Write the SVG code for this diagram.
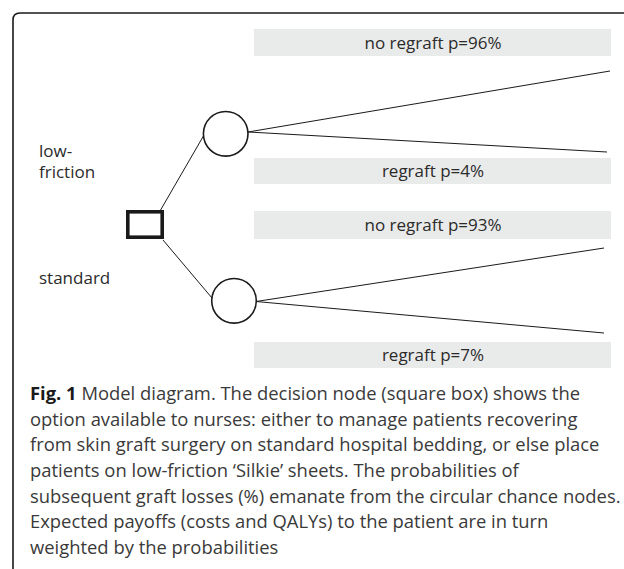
<svg xmlns="http://www.w3.org/2000/svg" width="624" height="569" viewBox="0 0 624 569">
<style>
.frame{fill:none;stroke:#1a1a1a;stroke-width:1.6}
.lbl{fill:#e9eaea}
.t{font-family:"Open Sans","Noto Sans",sans-serif;font-size:17px;fill:#2b2b2b}
.tc{text-anchor:middle}
.edge{stroke:#1a1a1a;stroke-width:1;fill:none}
.chance{fill:#fff;stroke:#1a1a1a;stroke-width:1.6}
.decision{fill:#fff;stroke:#1a1a1a;stroke-width:3.6}
.cap{font-family:"Open Sans","Noto Sans",sans-serif;font-size:18.4px;fill:#3a3a3a}
.capb{font-weight:700;fill:#1a1a1a}
</style>
<rect width="624" height="569" fill="#fff"/>
<path class="frame" d="M13 569 V20 Q13 13 20 13 H624"/>
<g id="labels">
<rect class="lbl" x="254" y="29" width="357" height="27"/>
<rect class="lbl" x="254" y="158" width="357" height="26"/>
<rect class="lbl" x="254" y="211" width="357" height="28"/>
<rect class="lbl" x="254" y="342" width="357" height="26"/>
<text class="t tc" x="433" y="48.5">no regraft p=96%</text>
<text class="t tc" x="433" y="176.5">regraft p=4%</text>
<text class="t tc" x="433" y="230.5">no regraft p=93%</text>
<text class="t tc" x="433" y="360.5">regraft p=7%</text>
<text class="t" x="39" y="157">low-</text>
<text class="t" x="39" y="178">friction</text>
<text class="t" x="39" y="284">standard</text>
</g>
<g id="connectors">
<line class="edge" x1="160" y1="211" x2="204" y2="135"/>
<line class="edge" x1="163" y1="240" x2="212" y2="298"/>
<line class="edge" x1="248" y1="132" x2="610" y2="71"/>
<line class="edge" x1="248" y1="132" x2="607" y2="152"/>
<line class="edge" x1="256" y1="301.5" x2="604" y2="248"/>
<line class="edge" x1="256" y1="301.5" x2="604" y2="333"/>
</g>
<g id="decision">
<rect class="decision" x="127.8" y="211.8" width="34.4" height="25.4"/>
</g>
<g id="chance-low-friction">
<circle class="chance" cx="225.7" cy="133.8" r="22.3"/>
</g>
<g id="chance-standard">
<circle class="chance" cx="234" cy="300.8" r="22.3"/>
</g>
<g id="caption">
<text class="cap" x="30" y="400"><tspan class="capb">Fig. 1</tspan> Model diagram. The decision node (square box) shows the</text>
<text class="cap" x="30" y="425.7">option available to nurses: either to manage patients recovering</text>
<text class="cap" x="30" y="451.4">from skin graft surgery on standard hospital bedding, or else place</text>
<text class="cap" x="30" y="477">patients on low-friction ‘Silkie’ sheets. The probabilities of</text>
<text class="cap" x="30" y="502.7">subsequent graft losses (%) emanate from the circular chance nodes.</text>
<text class="cap" x="30" y="528.4">Expected payoffs (costs and QALYs) to the patient are in turn</text>
<text class="cap" x="30" y="554">weighted by the probabilities</text>
</g>
</svg>
